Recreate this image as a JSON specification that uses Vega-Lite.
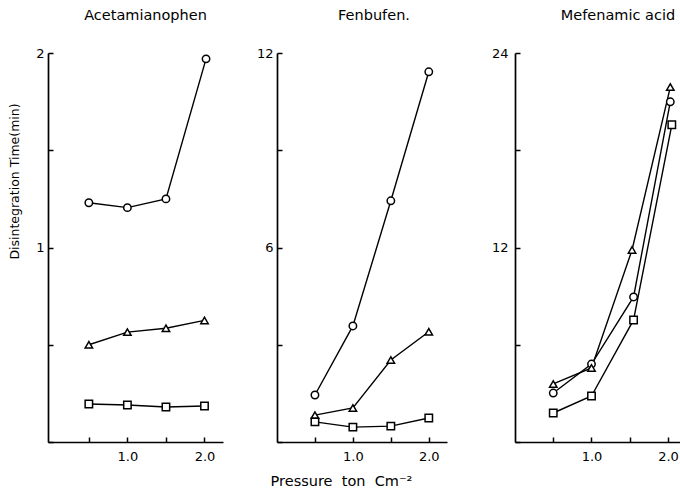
{
  "$schema": "https://vega.github.io/schema/vega-lite/v6.json",
  "background": "white",
  "padding": {"left": 8, "top": 7, "right": 0, "bottom": 0},
  "spacing": 33,
  "config": {
    "view": {"stroke": null},
    "font": "DejaVu Sans",
    "axis": {
      "grid": false,
      "domainColor": "black",
      "domainWidth": 1.7,
      "tickColor": "black",
      "tickWidth": 1.5,
      "tickSize": -5,
      "labelColor": "black",
      "labelFontSize": 13,
      "labelFont": "DejaVu Sans",
      "titleFont": "DejaVu Sans",
      "titleFontWeight": "normal",
      "titleColor": "black",
      "titleFontSize": 12.5
    },
    "title": {"fontWeight": "normal", "fontSize": 14.5, "font": "DejaVu Sans", "color": "black", "offset": 24}
  },
  "data": {
    "values": [
      {"drug": "Acetamianophen", "series": "A", "pressure": 0.5, "time": 1.23},
      {"drug": "Acetamianophen", "series": "A", "pressure": 1.0, "time": 1.205},
      {"drug": "Acetamianophen", "series": "A", "pressure": 1.5, "time": 1.25},
      {"drug": "Acetamianophen", "series": "A", "pressure": 2.02, "time": 1.97},
      {"drug": "Acetamianophen", "series": "B", "pressure": 0.5, "time": 0.5},
      {"drug": "Acetamianophen", "series": "B", "pressure": 1.0, "time": 0.565},
      {"drug": "Acetamianophen", "series": "B", "pressure": 1.5, "time": 0.585},
      {"drug": "Acetamianophen", "series": "B", "pressure": 2.0, "time": 0.625},
      {"drug": "Acetamianophen", "series": "C", "pressure": 0.5, "time": 0.195},
      {"drug": "Acetamianophen", "series": "C", "pressure": 1.0, "time": 0.19},
      {"drug": "Acetamianophen", "series": "C", "pressure": 1.5, "time": 0.18},
      {"drug": "Acetamianophen", "series": "C", "pressure": 2.0, "time": 0.185},
      {"drug": "Fenbufen", "series": "A", "pressure": 0.5, "time": 1.45},
      {"drug": "Fenbufen", "series": "A", "pressure": 1.0, "time": 3.58},
      {"drug": "Fenbufen", "series": "A", "pressure": 1.5, "time": 7.44},
      {"drug": "Fenbufen", "series": "A", "pressure": 2.0, "time": 11.42},
      {"drug": "Fenbufen", "series": "B", "pressure": 0.5, "time": 0.83},
      {"drug": "Fenbufen", "series": "B", "pressure": 1.0, "time": 1.05},
      {"drug": "Fenbufen", "series": "B", "pressure": 1.5, "time": 2.53},
      {"drug": "Fenbufen", "series": "B", "pressure": 2.0, "time": 3.4},
      {"drug": "Fenbufen", "series": "C", "pressure": 0.5, "time": 0.62},
      {"drug": "Fenbufen", "series": "C", "pressure": 1.0, "time": 0.46},
      {"drug": "Fenbufen", "series": "C", "pressure": 1.5, "time": 0.49},
      {"drug": "Fenbufen", "series": "C", "pressure": 2.0, "time": 0.74},
      {"drug": "Mefenamic acid", "series": "A", "pressure": 0.5, "time": 3.02},
      {"drug": "Mefenamic acid", "series": "A", "pressure": 1.0, "time": 4.81},
      {"drug": "Mefenamic acid", "series": "A", "pressure": 1.55, "time": 8.95},
      {"drug": "Mefenamic acid", "series": "A", "pressure": 2.03, "time": 20.99},
      {"drug": "Mefenamic acid", "series": "B", "pressure": 0.5, "time": 3.58},
      {"drug": "Mefenamic acid", "series": "B", "pressure": 1.0, "time": 4.57},
      {"drug": "Mefenamic acid", "series": "B", "pressure": 1.53, "time": 11.85},
      {"drug": "Mefenamic acid", "series": "B", "pressure": 2.03, "time": 21.9},
      {"drug": "Mefenamic acid", "series": "C", "pressure": 0.5, "time": 1.79},
      {"drug": "Mefenamic acid", "series": "C", "pressure": 1.0, "time": 2.84},
      {"drug": "Mefenamic acid", "series": "C", "pressure": 1.55, "time": 7.53},
      {"drug": "Mefenamic acid", "series": "C", "pressure": 2.05, "time": 19.57}
    ]
  },
  "hconcat": [
    {
      "title": {"text": "Acetamianophen", "dx": 10},
      "width": 175,
      "height": 389,
      "transform": [{"filter": "datum.drug == 'Acetamianophen'"}],
      "encoding": {
        "x": {"field": "pressure", "type": "quantitative",
              "scale": {"domain": [-0.03, 2.24], "nice": false, "zero": false},
              "axis": {"values": [0.5, 1, 1.5, 2], "title": null, "labelExpr": "datum.value == 1 || datum.value == 2 ? format(datum.value, '.1f') : ''", "labelPadding": 13}},
        "y": {"field": "time", "type": "quantitative",
              "scale": {"domain": [0, 2], "nice": false},
              "axis": {"values": [0, 0.5, 1, 1.5, 2], "title": "Disintegration Time(min)", "titlePadding": 14, "titleY": 128, "labelExpr": "datum.value == 1 || datum.value == 2 ? format(datum.value, 'd') : ''", "labelPadding": 9}},
        "detail": {"field": "series"}
      },
      "layer": [
        {"mark": {"type": "line", "color": "black", "strokeWidth": 1.4}},
        {"mark": {"type": "point", "filled": true, "fill": "white", "stroke": "black", "strokeWidth": 1.5, "size": 55, "opacity": 1},
         "encoding": {"shape": {"field": "series", "type": "nominal", "legend": null, "scale": {"domain": ["A", "B", "C"], "range": ["circle", "triangle-up", "square"]}}}}
      ]
    },
    {
      "title": {"text": "Fenbufen.", "dx": 12},
      "width": 170,
      "height": 389,
      "transform": [{"filter": "datum.drug == 'Fenbufen'"}],
      "encoding": {
        "x": {"field": "pressure", "type": "quantitative",
              "scale": {"domain": [0, 2.24], "nice": false, "zero": false},
              "axis": {"values": [0.5, 1, 1.5, 2], "title": "Pressure\u00a0\u00a0ton\u00a0\u00a0Cm⁻²", "titleFontSize": 14.5, "titlePadding": 11, "titleX": 64, "labelExpr": "datum.value == 1 || datum.value == 2 ? format(datum.value, '.1f') : ''", "labelPadding": 13}},
        "y": {"field": "time", "type": "quantitative",
              "scale": {"domain": [0, 12], "nice": false},
              "axis": {"values": [0, 3, 6, 9, 12], "title": null, "labelExpr": "datum.value == 6 || datum.value == 12 ? datum.label : ''", "labelPadding": 9}},
        "detail": {"field": "series"}
      },
      "layer": [
        {"mark": {"type": "line", "color": "black", "strokeWidth": 1.4}},
        {"mark": {"type": "point", "filled": true, "fill": "white", "stroke": "black", "strokeWidth": 1.5, "size": 55, "opacity": 1},
         "encoding": {"shape": {"field": "series", "type": "nominal", "legend": null, "scale": {"domain": ["A", "B", "C"], "range": ["circle", "triangle-up", "square"]}}}}
      ]
    },
    {
      "title": {"text": "Mefenamic acid", "dx": 20},
      "width": 166,
      "height": 389,
      "transform": [{"filter": "datum.drug == 'Mefenamic acid'"}],
      "encoding": {
        "x": {"field": "pressure", "type": "quantitative",
              "scale": {"domain": [0, 2.17], "nice": false, "zero": false},
              "axis": {"values": [0.5, 1, 1.5, 2], "title": null, "labelExpr": "datum.value == 1 || datum.value == 2 ? format(datum.value, '.1f') : ''", "labelPadding": 13}},
        "y": {"field": "time", "type": "quantitative",
              "scale": {"domain": [0, 24], "nice": false},
              "axis": {"values": [0, 6, 12, 18, 24], "title": null, "minExtent": 35, "labelExpr": "datum.value == 12 || datum.value == 24 ? datum.label : ''", "labelPadding": 12}},
        "detail": {"field": "series"}
      },
      "layer": [
        {"mark": {"type": "line", "color": "black", "strokeWidth": 1.4}},
        {"mark": {"type": "point", "filled": true, "fill": "white", "stroke": "black", "strokeWidth": 1.5, "size": 55, "opacity": 1},
         "encoding": {"shape": {"field": "series", "type": "nominal", "legend": null, "scale": {"domain": ["A", "B", "C"], "range": ["circle", "triangle-up", "square"]}}}}
      ]
    }
  ]
}
